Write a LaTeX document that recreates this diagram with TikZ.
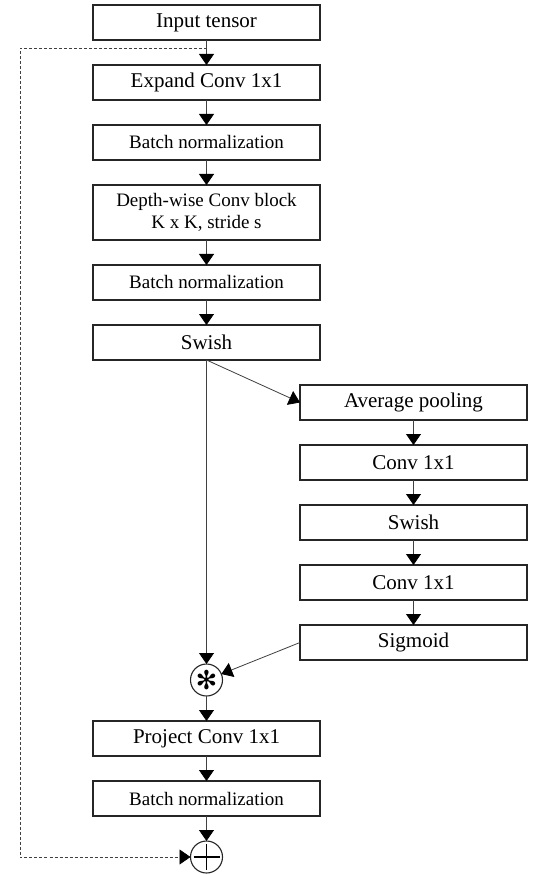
\documentclass[tikz,border=0pt]{standalone}
\usepackage{fontspec}
\setmainfont{Liberation Serif}
\newfontfamily\symfont{DejaVu Sans}
\usetikzlibrary{positioning, arrows.meta, calc}
\colorlet{drawColor}{black!85}
\colorlet{lineColor}{black!75}
\tikzstyle{rect}=[rectangle, draw=drawColor, line width=1.4pt, fill=white,
  minimum width=227pt, minimum height=35pt, inner sep=2pt, outer sep=0pt,
  align=center, font=\fontsize{21}{25}\selectfont]
\tikzstyle{small}=[font=\fontsize{19}{22}\selectfont]
\tikzstyle{op}=[circle, draw=drawColor, line width=1.1pt, fill=white,
  minimum size=32pt, inner sep=0pt, outer sep=0pt]
\tikzstyle{arrow}=[-{Triangle[width=15pt,length=11pt,color=black]}, line width=0.8pt, draw=lineColor]
\tikzstyle{skipline}=[arrow, dash pattern=on 3pt off 2pt]

\begin{document}
\begin{tikzpicture}[x=1pt, y=-1pt, node distance=25pt]
      \useasboundingbox (0,0) rectangle (532,874);
      % main branch
      \node (input) [rect] at (206.5,22.5) {Input tensor};
      \node (expand) [rect, below=of input] {Expand Conv 1x1};
      \draw [arrow] (input) -- (expand);
      \node (bn1) [rect, small, below=of expand] {Batch normalization};
      \draw [arrow] (expand) -- (bn1);
      \node (dwconv) [rect, small, minimum height=55pt, below=of bn1] {Depth-wise Conv block\\K x K, stride s};
      \draw [arrow] (bn1) -- (dwconv);
      \node (bn2) [rect, small, below=of dwconv] {Batch normalization};
      \draw [arrow] (dwconv) -- (bn2);
      \node (swish) [rect, below=of bn2] {Swish};
      \draw [arrow] (bn2) -- (swish);
      % squeeze and excitation branch
      \node (avgpool) [rect, below right=25pt and -20pt of swish] {Average pooling};
      \draw [arrow] (swish.south) -- (avgpool.west);
      \node (se1) [rect, below=of avgpool] {Conv 1x1};
      \draw [arrow] (avgpool) -- (se1);
      \node (seswish) [rect, below=of se1] {Swish};
      \draw [arrow] (se1) -- (seswish);
      \node (se2) [rect, below=of seswish] {Conv 1x1};
      \draw [arrow] (seswish) -- (se2);
      \node (sigmoid) [rect, below=of se2] {Sigmoid};
      \draw [arrow] (se2) -- (sigmoid);
      % rescale, project, add
      \coordinate (mulTop) at (swish |- sigmoid.south);
      \node (mul) [op, below=4pt of mulTop] {\symfont\fontsize{26}{26}\selectfont ✻};
      \draw [arrow] (swish) -- (mul);
      \draw [arrow] (sigmoid.west) -- (mul);
      \node (project) [rect, below=of mul] {Project Conv 1x1};
      \draw [arrow] (mul) -- (project);
      \node (bn3) [rect, small, below=of project] {Batch normalization};
      \draw [arrow] (project) -- (bn3);
      \node (add) [op, below=of bn3] {};
      \draw [line width=1.8pt, draw=black] ([yshift=-3pt]add.north) -- ([yshift=3pt]add.south)
        ([xshift=3pt]add.west) -- ([xshift=-3pt]add.east);
      \draw [arrow] (bn3) -- (add);
      % skip connection
      \coordinate (skip) at ([yshift=-8pt]input.south);
      \draw [skipline] (skip) -- ++(-186.5,0) |- (add);
    \end{tikzpicture}
\end{document}
